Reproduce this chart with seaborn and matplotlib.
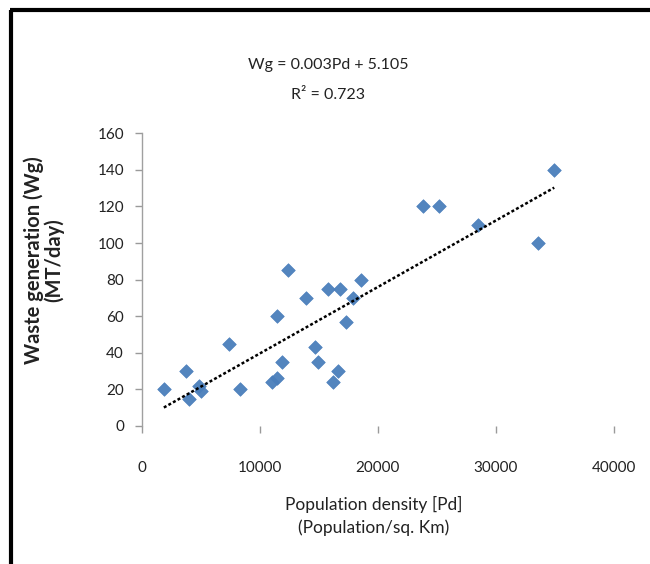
import numpy as np
import pandas as pd
import matplotlib
matplotlib.use("Agg")
import matplotlib.pyplot as plt
import seaborn as sns
from matplotlib.lines import Line2D

# Datos
pop_density = [1850, 3740, 4010, 4800, 5030, 7350, 8300, 11000, 11400,
               11400, 11900, 12350, 13870, 14700, 14900, 15800, 16200,
               16600, 16800, 17300, 17900, 18560, 23790, 25200, 28500,
               33530, 34940]
waste_gen = [20, 30, 15, 22, 19, 45, 20, 24, 26,
             60, 35, 85, 70, 43, 35, 75, 24,
             30, 75, 57, 70, 80, 120, 120, 110,
             100, 140]
x_ticks = [0, 10000, 20000, 30000, 40000]
y_ticks = [0, 20, 40, 60, 80, 100, 120, 140, 160]

df = pd.DataFrame({"pd": pop_density, "wg": waste_gen})

sns.set_theme(style="white")
plt.rcParams["font.family"] = ["Lato", "DejaVu Sans"]

fig = plt.figure(figsize=(6.5, 5.64), dpi=100)
ax = fig.add_axes([0.2185, 0.2447, 0.726, 0.519])

sns.regplot(data=df, x="pd", y="wg", ax=ax, ci=None, truncate=True,
            marker="D",
            scatter_kws={"s": 48, "color": "#4A7EBB", "edgecolor": "#4A7EBB",
                         "linewidths": 0.5, "alpha": 0.95},
            line_kws={"color": "black", "lw": 1.8, "linestyle": (0, (1.2, 0.9))})

ax.set_xlim(0, 40000)
ax.set_ylim(0, 160)
ax.set_xticks(x_ticks)
ax.set_yticks(y_ticks)
ax.set_xticklabels([str(v) for v in x_ticks])
ax.set_yticklabels([str(v) for v in y_ticks])
ax.tick_params(axis="both", labelsize=11, colors="#9a9a9a", labelcolor="#222222",
               direction="out", length=5, width=1)
ax.tick_params(axis="x", pad=20)
ax.tick_params(axis="y", pad=8)
ax.xaxis.set_ticks_position("bottom")
ax.yaxis.set_ticks_position("left")

for s in ["top", "right", "bottom"]:
    ax.spines[s].set_visible(False)
ax.spines["left"].set_color("#a0a0a0")
ax.spines["left"].set_linewidth(1)

ax.set_xlabel("Population density [Pd]\n(Population/sq. Km)", fontsize=12.5,
              color="#222222", linespacing=1.45)
ax.xaxis.set_label_coords(0.49, -0.24)
ax.xaxis.label.set_verticalalignment("top")
ax.set_ylabel("Waste generation (Wg)\n(MT/day)", fontsize=14.5, fontweight="bold",
              color="#222222", linespacing=1.0)
ax.yaxis.set_label_coords(-0.165, 0.565)

fig.text(0.505, 0.885, "Wg = 0.003Pd + 5.105", ha="center", va="center",
         fontsize=11.5, color="#222222")
fig.text(0.505, 0.832, "R\u00b2 = 0.723", ha="center", va="center",
         fontsize=11.5, color="#222222")

# marco del recorte original
fig.add_artist(Line2D([0.017, 0.017], [0.0, 0.983], transform=fig.transFigure,
                      color="black", lw=3, solid_capstyle="butt"))
fig.add_artist(Line2D([0.015, 1.0], [0.983, 0.983], transform=fig.transFigure,
                      color="black", lw=3, solid_capstyle="butt"))

fig.savefig("out.png", dpi=100, facecolor="white")
